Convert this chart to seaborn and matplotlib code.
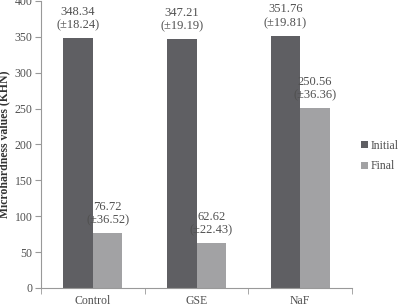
import numpy as np
import pandas as pd
import matplotlib
matplotlib.use('Agg')
import matplotlib.pyplot as plt
import seaborn as sns

# 数据
groups = ['Control', 'GSE', 'NaF']
initial = [348.34, 347.21, 351.76]
initial_sd = [18.24, 19.19, 19.81]
final = [76.72, 62.62, 250.56]
final_sd = [36.52, 22.43, 36.36]
y_ticks = [0, 50, 100, 150, 200, 250, 300, 350, 400]

df = pd.DataFrame({
    'group': groups * 2,
    'time': ['Initial'] * 3 + ['Final'] * 3,
    'value': initial + final,
    'sd': initial_sd + final_sd,
})

sns.set_style('white')
plt.rcParams['font.family'] = ['Liberation Serif', 'DejaVu Serif']
txt_color = '#505050'

fig = plt.figure(figsize=(4.06, 3.06), dpi=100)
ax = fig.add_axes([0.101, 0.059, 0.766, 0.938])
sns.barplot(data=df, x='group', y='value', hue='time', ax=ax,
            palette=['#5f5f63', '#a2a2a4'], width=0.57, saturation=1,
            edgecolor='none')

# 数值标注
for cont, sub in zip(ax.containers, [df[df.time == 'Initial'], df[df.time == 'Final']]):
    for bar, v, s in zip(cont, sub['value'], sub['sd']):
        ax.text(bar.get_x() + bar.get_width() / 2, v + 9,
                '%.2f\n(±%.2f)' % (v, s), ha='center', va='bottom',
                fontsize=9, color=txt_color, linespacing=1.2)

ax.set_ylim(0, 400)
ax.set_yticks(y_ticks)
ax.set_xlim(-0.5, 2.5)
ax.set_xlabel('')
ax.set_ylabel('Microhardness values (KHN)', fontsize=8.5, fontweight='bold',
              color='#333333', labelpad=3)
ax.set_xticks([-0.5, 0.5, 1.5, 2.5], minor=True)
ax.tick_params(axis='x', which='major', length=0, labelsize=8.5, labelcolor=txt_color, pad=5)
ax.tick_params(axis='x', which='minor', length=4, color='#999999', direction='out', bottom=True)
ax.tick_params(axis='y', length=4, color='#999999', direction='out', left=True,
               labelsize=8.5, labelcolor=txt_color, pad=2)
sns.despine(ax=ax)
for sp in ['left', 'bottom']:
    ax.spines[sp].set_color('#999999')
    ax.spines[sp].set_linewidth(0.8)

handles, labels = ax.get_legend_handles_labels()
ax.legend(handles, labels, loc='center left', bbox_to_anchor=(0.87, 0.49),
          bbox_transform=fig.transFigure, frameon=False, fontsize=8.5,
          handlelength=0.55, handleheight=0.55, handletextpad=0.25,
          labelspacing=0.75, labelcolor=txt_color, borderpad=0.2)

fig.savefig('out.png', dpi=100)
